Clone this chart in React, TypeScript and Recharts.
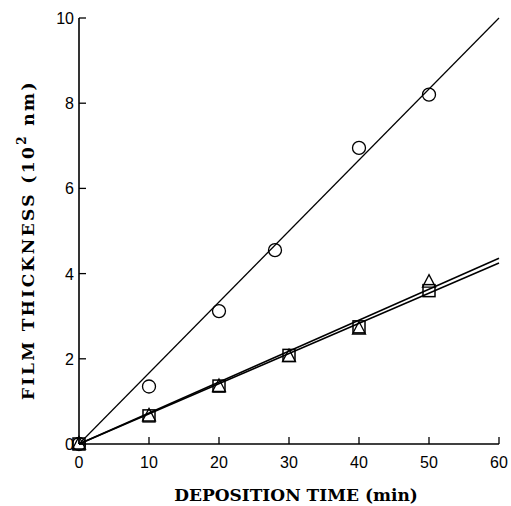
import { ComposedChart, Line, Scatter, XAxis, YAxis } from "recharts";

// measured points (time in min, thickness in 10^2 nm)
const circleTime = [0, 10, 20, 28, 40, 50];
const circleThickness = [0, 1.35, 3.12, 4.55, 6.95, 8.2];
const squareTime = [0, 10, 20, 30, 40, 50];
const squareThickness = [0, 0.66, 1.36, 2.08, 2.75, 3.6];
const triangleTime = [0, 10, 20, 30, 40, 50];
const triangleThickness = [0, 0.66, 1.35, 2.05, 2.7, 3.8];

// straight-line fits
const fitTime = [0, 60];
const circleFit = [0, 10];
const squareFit = [0, 4.25];
const triangleFit = [0, 4.36];

const xTicks = [0, 10, 20, 30, 40, 50, 60];
const yTicks = [0, 2, 4, 6, 8, 10];

const toPoints = (xs: number[], ys: number[]) => xs.map((x, i) => ({ x, y: ys[i] }));

const W = 511;
const H = 506;
const MARGIN = { top: 18, right: 12, left: 0, bottom: 0 };
const Y_AXIS_W = 79;
const X_AXIS_H = 62;
const PLOT_LEFT = MARGIN.left + Y_AXIS_W;
const PLOT_RIGHT = W - MARGIN.right;
const PLOT_TOP = MARGIN.top;
const PLOT_BOTTOM = H - MARGIN.bottom - X_AXIS_H;

const TICK_LEN = 7;
const LABEL_FONT = "'Liberation Sans', Arial, sans-serif";
const TITLE_FONT = "'DejaVu Serif', 'Liberation Serif', serif";

function BottomTick(props: any) {
  const { x, payload } = props;
  return (
    <g>
      <line x1={x} x2={x} y1={PLOT_BOTTOM} y2={PLOT_BOTTOM - TICK_LEN} stroke="#000" strokeWidth={1.3} />
      <text x={x} y={PLOT_BOTTOM + 24} textAnchor="middle" fontSize={16} fontFamily={LABEL_FONT} fill="#000">
        {payload.value}
      </text>
    </g>
  );
}

function TopTick(props: any) {
  const { x } = props;
  return <line x1={x} x2={x} y1={PLOT_TOP} y2={PLOT_TOP + TICK_LEN} stroke="#000" strokeWidth={1.3} />;
}

function LeftTick(props: any) {
  const { y, payload } = props;
  return (
    <g>
      <line x1={PLOT_LEFT} x2={PLOT_LEFT + TICK_LEN} y1={y} y2={y} stroke="#000" strokeWidth={1.3} />
      <text x={PLOT_LEFT - 5} y={y + 6} textAnchor="end" fontSize={16} fontFamily={LABEL_FONT} fill="#000">
        {payload.value}
      </text>
    </g>
  );
}

function RightTick(props: any) {
  const { y } = props;
  return <line x1={PLOT_RIGHT} x2={PLOT_RIGHT - TICK_LEN} y1={y} y2={y} stroke="#000" strokeWidth={1.3} />;
}

const CircleMark = (p: any) => (
  <circle cx={p.cx} cy={p.cy} r={6.5} fill="none" stroke="#000" strokeWidth={1.3} />
);
const SquareMark = (p: any) => (
  <rect x={p.cx - 6} y={p.cy - 6} width={12} height={12} fill="none" stroke="#000" strokeWidth={1.5} />
);
const TriangleMark = (p: any) => (
  <path
    d={`M${p.cx},${p.cy - 7.5}L${p.cx + 6.5},${p.cy + 5}L${p.cx - 6.5},${p.cy + 5}Z`}
    fill="none"
    stroke="#000"
    strokeWidth={1.3}
  />
);

export default function App() {
  return (
    <div style={{ position: "absolute", left: 0, top: 0, background: "#fff" }}>
      <ComposedChart width={W} height={H} margin={MARGIN}>
        <XAxis
          type="number"
          dataKey="x"
          domain={[0, 60]}
          ticks={xTicks}
          height={X_AXIS_H}
          tickLine={false}
          tick={<BottomTick />}
          axisLine={{ stroke: "#000", strokeWidth: 1.6 }}
        />
        <XAxis
          xAxisId="top"
          orientation="top"
          type="number"
          domain={[0, 60]}
          ticks={xTicks}
          height={0}
          tickLine={false}
          tick={<TopTick />}
          axisLine={{ stroke: "#000", strokeWidth: 1.6 }}
        />
        <YAxis
          type="number"
          domain={[0, 10]}
          ticks={yTicks}
          width={Y_AXIS_W}
          tickLine={false}
          tick={<LeftTick />}
          axisLine={{ stroke: "#000", strokeWidth: 1.6 }}
        />
        <YAxis
          yAxisId="right"
          orientation="right"
          type="number"
          domain={[0, 10]}
          ticks={yTicks}
          width={0}
          tickLine={false}
          tick={<RightTick />}
          axisLine={{ stroke: "#000", strokeWidth: 1.6 }}
        />

        <Line data={toPoints(fitTime, circleFit)} dataKey="y" stroke="#000" strokeWidth={1.2} dot={false} isAnimationActive={false} />
        <Line data={toPoints(fitTime, squareFit)} dataKey="y" stroke="#000" strokeWidth={1.5} dot={false} isAnimationActive={false} />
        <Line data={toPoints(fitTime, triangleFit)} dataKey="y" stroke="#000" strokeWidth={1.5} dot={false} isAnimationActive={false} />

        <Scatter data={toPoints(circleTime, circleThickness)} dataKey="y" shape={CircleMark} isAnimationActive={false} />
        <Scatter data={toPoints(squareTime, squareThickness)} dataKey="y" shape={SquareMark} isAnimationActive={false} />
        <Scatter data={toPoints(triangleTime, triangleThickness)} dataKey="y" shape={TriangleMark} isAnimationActive={false} />

        <text
          x={296}
          y={501}
          textAnchor="middle"
          fontSize={17}
          fontWeight="bold"
          fontFamily={TITLE_FONT}
          fill="#000"
        >
          DEPOSITION TIME (min)
        </text>
        <text
          transform="translate(34,240) rotate(-90)"
          textAnchor="middle"
          fontSize={17}
          fontWeight="bold"
          letterSpacing={2.4}
          fontFamily={TITLE_FONT}
          fill="#000"
        >
          FILM THICKNESS (10
          <tspan dy={-8} fontSize={12}>2</tspan>
          <tspan dy={8}> nm)</tspan>
        </text>
      </ComposedChart>
    </div>
  );
}
